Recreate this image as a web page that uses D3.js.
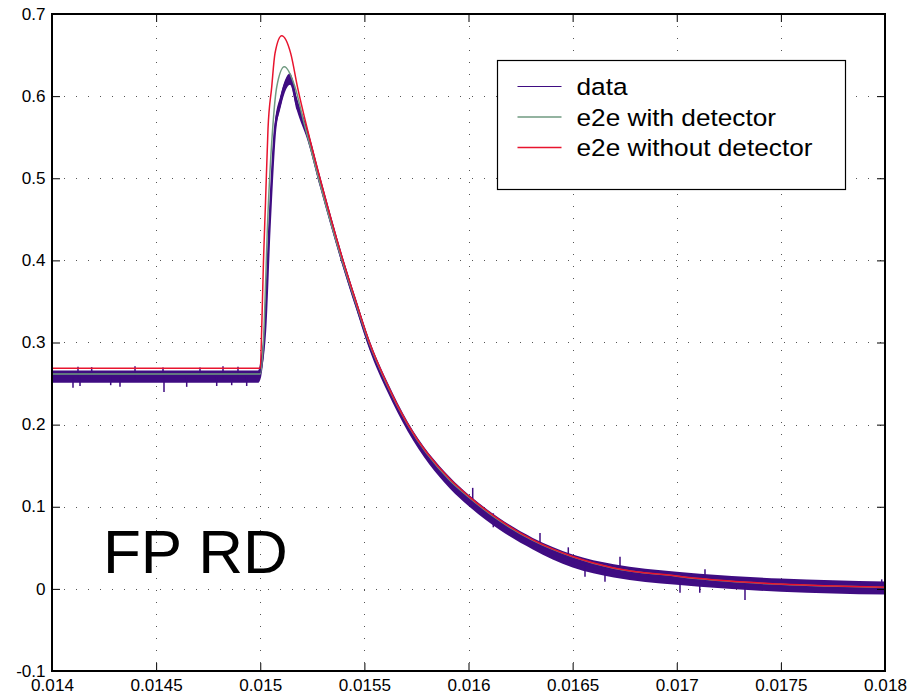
<!DOCTYPE html>
<html>
<head>
<meta charset="utf-8">
<script src="https://cdn.jsdelivr.net/npm/d3@7"></script>
<style>
  body { margin: 0; background: #fff; }
  svg { display: block; font-family: "Liberation Sans", Arial, Helvetica, sans-serif; }
</style>
</head>
<body>
<div id="chart"></div>
<script>
// tick labels
const xTicks = [0.014, 0.0145, 0.015, 0.0155, 0.016, 0.0165, 0.017, 0.0175, 0.018];
const xTickLabels = ["0.014", "0.0145", "0.015", "0.0155", "0.016", "0.0165", "0.017", "0.0175", "0.018"];
const yTicks = [-0.1, 0, 0.1, 0.2, 0.3, 0.4, 0.5, 0.6, 0.7];
const yTickLabels = ["-0.1", "0", "0.1", "0.2", "0.3", "0.4", "0.5", "0.6", "0.7"];

// series names
const seriesNames = ["data", "e2e with detector", "e2e without detector"];

// e2e without detector
const redX = [0.014, 0.015, 0.0150084, 0.0150156, 0.0150252, 0.0150372, 0.015055, 0.0150708, 0.015103,
  0.0151462, 0.0151789, 0.0152269, 0.0152869, 0.0153974, 0.0154598, 0.0155246, 0.0156086, 0.0157095,
  0.0159112, 0.016, 0.0161489, 0.0163089, 0.0165, 0.0166978, 0.017, 0.0171105, 0.0175, 0.018];
const redY = [0.2685, 0.2685, 0.33, 0.40, 0.47, 0.56, 0.611, 0.652, 0.6734,
  0.652, 0.611, 0.559, 0.5, 0.4, 0.35, 0.3, 0.25, 0.2,
  0.1334, 0.113, 0.084, 0.0597, 0.0394, 0.0255, 0.0157, 0.0125, 0.0058, 0.002];

// e2e with detector
const greenX = [0.014, 0.015, 0.015018, 0.0150339, 0.0150627, 0.015079, 0.0151155,
  0.0151669, 0.0152067, 0.0152797, 0.0153926, 0.0154564, 0.0155222, 0.0156062, 0.015708,
  0.0159112, 0.016, 0.0161489, 0.0163089, 0.0165, 0.0166978, 0.017, 0.0171105, 0.0175, 0.018];
const greenY = [0.2616, 0.2616, 0.315, 0.437, 0.571, 0.611, 0.6357,
  0.611, 0.571, 0.5, 0.4, 0.35, 0.3, 0.25, 0.2,
  0.132, 0.112, 0.083, 0.059, 0.039, 0.025, 0.0155, 0.0122, 0.0055, 0.0018];

// measured data: centre and noise envelope
const dataX = [0.014, 0.0145, 0.01499, 0.015004, 0.0150228, 0.0150435, 0.0150708, 0.015095, 0.0151429,
  0.015175, 0.0152269, 0.0152869, 0.0153974, 0.0154598, 0.0155246, 0.0156086, 0.0157095,
  0.0159112, 0.016, 0.0161489, 0.0163089, 0.0165, 0.0166978, 0.017, 0.0171105, 0.0175, 0.018];
const dataMid = [0.2585, 0.2585, 0.2585, 0.27, 0.315, 0.437, 0.559, 0.591, 0.6235,
  0.591, 0.553, 0.496, 0.397, 0.347, 0.297, 0.247, 0.197,
  0.129, 0.108, 0.079, 0.055, 0.034, 0.022, 0.013, 0.0105, 0.0045, 0.001];
const dataLo = [0.251, 0.251, 0.251, 0.258, 0.306, 0.428, 0.550, 0.583, 0.614,
  0.583, 0.546, 0.489, 0.391, 0.341, 0.291, 0.241, 0.191,
  0.122, 0.101, 0.072, 0.048, 0.026, 0.014, 0.005, 0.0025, -0.0035, -0.007];
const dataHi = [0.266, 0.266, 0.266, 0.282, 0.324, 0.446, 0.568, 0.599, 0.628,
  0.599, 0.560, 0.503, 0.403, 0.353, 0.303, 0.253, 0.203,
  0.136, 0.115, 0.086, 0.062, 0.042, 0.030, 0.021, 0.0185, 0.0125, 0.009];

// visible noise spikes in the data trace
const spikeX = [0.0141008, 0.0141248, 0.0141345, 0.0141906, 0.0142819, 0.0143265, 0.0143986, 0.014533,
  0.0145378, 0.0146468, 0.0147107, 0.0147909, 0.0148211, 0.0148629, 0.0148931, 0.0149349,
  0.0160202, 0.0161191, 0.0163433, 0.0164792, 0.0165594, 0.0166554, 0.0167275, 0.0170156,
  0.0171105, 0.0171356, 0.0173277, 0.0179842, 0.018];
const spikeLo = [0.245, 0.256, 0.247, 0.256, 0.248, 0.246, 0.256, 0.256,
  0.2396, 0.246, 0.256, 0.247, 0.256, 0.248, 0.256, 0.247,
  0.100, 0.075, 0.052, 0.033, 0.0148, 0.0087, 0.020, -0.0047,
  -0.0047, 0.008, -0.0136, -0.002, -0.016];
const spikeHi = [0.258, 0.2705, 0.258, 0.270, 0.258, 0.258, 0.271, 0.2695,
  0.258, 0.258, 0.2695, 0.258, 0.271, 0.258, 0.2705, 0.258,
  0.123, 0.092, 0.068, 0.0506, 0.032, 0.026, 0.039, 0.013,
  0.011, 0.0238, 0.008, 0.0116, 0.004];

const colors = { data: "#3f0c82", green: "#6f9a80", red: "#e8142e" };

const width = 914, height = 698;
const svg = d3.select("#chart").append("svg")
    .attr("width", width)
    .attr("height", height);

const x = d3.scaleLinear().domain([0.014, 0.018]).range([52, 885]);
const y = d3.scaleLinear().domain([-0.1, 0.7]).range([671, 14]);

// dotted grid
const grid = svg.append("g").attr("stroke", "#555").attr("stroke-width", 1).attr("stroke-dasharray", "1,11");
xTicks.slice(1, -1).forEach(t => {
    grid.append("line").attr("x1", Math.round(x(t)) + 0.5).attr("x2", Math.round(x(t)) + 0.5)
        .attr("y1", y(0.7)).attr("y2", y(-0.1));
});
yTicks.slice(1, -1).forEach(t => {
    grid.append("line").attr("y1", Math.round(y(t)) + 0.5).attr("y2", Math.round(y(t)) + 0.5)
        .attr("x1", x(0.014)).attr("x2", x(0.018));
});

const plot = svg.append("g");

// data band
const band = d3.area()
    .x((d, i) => x(dataX[i]))
    .y0((d, i) => y(dataLo[i]))
    .y1((d, i) => y(dataHi[i]))
    .curve(d3.curveMonotoneX);
plot.append("path").datum(dataX).attr("d", band).attr("fill", colors.data);

const midLine = d3.line().x((d, i) => x(dataX[i])).y((d, i) => y(dataMid[i])).curve(d3.curveMonotoneX);
plot.append("path").datum(dataX).attr("d", midLine)
    .attr("fill", "none").attr("stroke", colors.data).attr("stroke-width", 2.5);

plot.selectAll(".spike").data(spikeX).enter().append("line")
    .attr("class", "spike")
    .attr("x1", d => x(d)).attr("x2", d => x(d))
    .attr("y1", (d, i) => y(spikeLo[i])).attr("y2", (d, i) => y(spikeHi[i]))
    .attr("stroke", colors.data).attr("stroke-width", 1.5);

// model curves
const greenLine = d3.line().x((d, i) => x(greenX[i])).y((d, i) => y(greenY[i])).curve(d3.curveMonotoneX);
plot.append("path").datum(greenX).attr("d", greenLine)
    .attr("fill", "none").attr("stroke", colors.green).attr("stroke-width", 1.5);

const redLine = d3.line().x((d, i) => x(redX[i])).y((d, i) => y(redY[i])).curve(d3.curveMonotoneX);
plot.append("path").datum(redX).attr("d", redLine)
    .attr("fill", "none").attr("stroke", colors.red).attr("stroke-width", 1.5);

// axes with inward ticks
const stretch = "scale(1.07,1)";
const xAxis = svg.append("g").attr("transform", `translate(0,${y(-0.1)})`)
    .call(d3.axisBottom(x).tickValues(xTicks).tickSize(-8).tickPadding(9)
        .tickFormat((d, i) => xTickLabels[i]));
const yAxis = svg.append("g").attr("transform", `translate(${x(0.014)},0)`)
    .call(d3.axisLeft(y).tickValues(yTicks).tickSize(-8).tickPadding(6)
        .tickFormat((d, i) => yTickLabels[i]));
svg.append("g").attr("transform", `translate(0,${y(0.7)})`)
    .call(d3.axisTop(x).tickValues(xTicks).tickSize(-8).tickFormat(""));
svg.append("g").attr("transform", `translate(${x(0.018)},0)`)
    .call(d3.axisRight(y).tickValues(yTicks).tickSize(-8).tickFormat(""));

svg.selectAll(".domain").remove();
svg.selectAll(".tick line").attr("stroke", "#000").attr("stroke-width", 1);
[xAxis, yAxis].forEach(a => a.selectAll("text")
    .attr("font-size", 16)
    .attr("font-family", "Liberation Sans, Arial, sans-serif")
    .attr("fill", "#000")
    .attr("transform", stretch));

// axes box
svg.append("rect")
    .attr("x", x(0.014)).attr("y", y(0.7))
    .attr("width", x(0.018) - x(0.014)).attr("height", y(-0.1) - y(0.7))
    .attr("fill", "none").attr("stroke", "#000").attr("stroke-width", 2);

// legend
const legend = svg.append("g").attr("transform", "translate(497.5,60.5)");
legend.append("rect").attr("width", 348).attr("height", 129)
    .attr("fill", "#fff").attr("stroke", "#000").attr("stroke-width", 1.2);
const legendColors = [colors.data, colors.green, colors.red];
seriesNames.forEach((name, i) => {
    const row = legend.append("g").attr("transform", `translate(0,${26 + i * 30.5})`);
    row.append("line").attr("x1", 20).attr("x2", 64).attr("y1", 0).attr("y2", 0)
        .attr("stroke", legendColors[i]).attr("stroke-width", i === 0 ? 1.2 : 1.5);
    row.append("g").attr("transform", "translate(79,8.5) " + stretch)
        .append("text").attr("font-size", 24.5).attr("fill", "#000").text(name);
});

// annotation
svg.append("text")
    .attr("x", 103).attr("y", 573)
    .attr("font-size", 62)
    .attr("fill", "#000")
    .text("FP RD");
</script>
</body>
</html>
